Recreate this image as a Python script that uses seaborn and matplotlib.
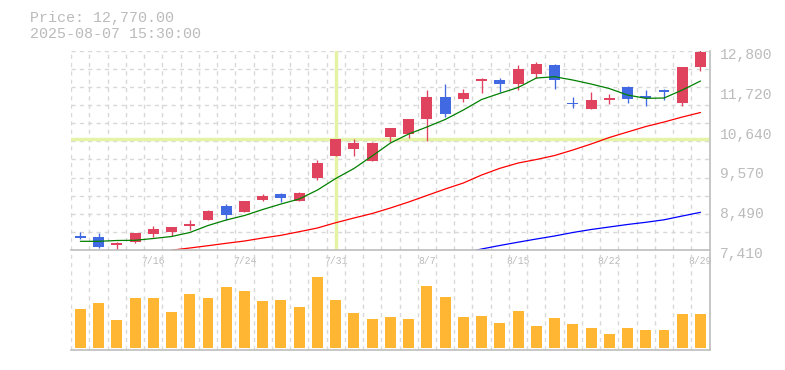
import numpy as np
import pandas as pd
import matplotlib
matplotlib.use("Agg")
import matplotlib.pyplot as plt
import seaborn as sns
from matplotlib.transforms import ScaledTranslation

# ---------------- data ----------------
dates = ['7/10', '7/11', '7/14', '7/15', '7/16', '7/17', '7/18', '7/22', '7/23', '7/24',
         '7/25', '7/28', '7/29', '7/30', '7/31', '8/1', '8/4', '8/5', '8/6', '8/7',
         '8/8', '8/12', '8/13', '8/14', '8/15', '8/18', '8/19', '8/20', '8/21', '8/22',
         '8/25', '8/26', '8/27', '8/28', '8/29']
opens = [7790, 7755, 7540, 7635, 7850, 7905, 8065, 8220, 8600, 8440,
         8760, 8925, 8735, 9355, 9950, 10140, 9825, 10465, 10545, 10950,
         11545, 11495, 11990, 12005, 11900, 12170, 12410, 11385, 11225, 11480,
         11820, 11575, 11735, 11395, 12365]
highs = [7900, 7880, 7635, 7880, 8060, 8030, 8220, 8490, 8655, 8745,
         8925, 8950, 8980, 9845, 10415, 10410, 10330, 10710, 10955, 11735,
         11900, 11770, 12070, 12060, 12410, 12495, 12440, 11555, 11680, 11630,
         11845, 11735, 11765, 12360, 12810]
lows = [7700, 7470, 7410, 7590, 7770, 7795, 7960, 8215, 8220, 8430,
        8735, 8710, 8730, 9305, 9945, 9950, 9820, 10330, 10440, 10355,
        11005, 11420, 11655, 11680, 11745, 12060, 11770, 11240, 11220, 11360,
        11385, 11310, 11480, 11310, 12260]
closes = [7735, 7500, 7590, 7880, 7980, 8030, 8120, 8465, 8365, 8735,
          8870, 8815, 8950, 9760, 10410, 10305, 10305, 10710, 10950, 11545,
          11095, 11655, 12040, 11900, 12305, 12440, 12015, 11360, 11465, 11505,
          11495, 11510, 11680, 12360, 12770]
volumes = [390, 450, 280, 500, 500, 360, 540, 500, 610, 570,
           470, 480, 410, 710, 480, 350, 290, 310, 290, 620,
           510, 310, 320, 250, 370, 220, 300, 240, 200, 140,
           200, 180, 180, 340, 340]
ma_short = [7645, 7645, 7667, 7672, 7721, 7775, 7883, 8072, 8221, 8343,
            8505, 8654, 8789, 9032, 9343, 9614, 9952, 10303, 10547, 10736,
            10939, 11196, 11480, 11647, 11804, 12061, 12096, 12007, 11899, 11777,
            11601, 11512, 11520, 11736, 11980]
ma_mid = [np.nan] * 5 + [7405, 7464, 7526, 7591, 7653,
                         7734, 7807, 7905, 8005, 8148, 8275, 8397, 8546, 8708, 8884,
                         9059, 9222, 9438, 9619, 9762, 9857, 9965, 10114, 10276, 10452,
                         10601, 10749, 10871, 11006, 11128]
ma_long = [np.nan] * 21 + [7329, 7437, 7532, 7621, 7707, 7789, 7883, 7964, 8032,
                           8100, 8159, 8227, 8329, 8429]
price_ticks = [7410, 8490, 9570, 10640, 11720, 12800]
price_tick_labels = ['7,410', '8,490', '9,570', '10,640', '11,720', '12,800']
header_price = 'Price: 12,770.00'
header_time = '2025-08-07 15:30:00'
cross_index = 14

# ---------------- style ----------------
sns.set_style('white')
plt.rcParams['font.family'] = ['Liberation Mono', 'DejaVu Sans Mono']

UP = '#E0435E'
DOWN = '#4169E1'
GRID = '#D8D8D8'
SPINE = '#BDBDBD'
TXT = '#BBBBBB'
VOL = '#FFB733'
CROSS = '#E4F3A6'

n = len(dates)
idx = np.arange(n)
df = pd.DataFrame({'i': idx, 'date': dates, 'open': opens, 'high': highs,
                   'low': lows, 'close': closes, 'volume': volumes,
                   'ma_short': ma_short, 'ma_mid': ma_mid, 'ma_long': ma_long})
df['up'] = df['close'] >= df['open']

fig = plt.figure(figsize=(7.85, 3.70), dpi=100)
W, H = 785, 370
xl, xr = 71.2, 709.6
ax = fig.add_axes([xl / W, (H - 250) / H, (xr - xl) / W, 199.3 / H])
axv = fig.add_axes([xl / W, (H - 350) / H, (xr - xl) / W, 98 / H])

ymin, ymax = 7410, 12800
for a in (ax, axv):
    a.set_xlim(-0.5, n - 0.5)
    a.set_facecolor('none')
    for s in ('left', 'top'):
        a.spines[s].set_visible(False)
    for s in ('right', 'bottom'):
        a.spines[s].set_color(SPINE)
        a.spines[s].set_linewidth(1.2)
        a.spines[s].set_zorder(6)
    for gx in np.arange(-0.5, n, 1.0):
        a.axvline(gx, color=GRID, lw=1.0, ls=(0, (3, 3)), zorder=0)

ax.set_ylim(ymin, ymax)
for gy in np.linspace(ymin, ymax, 12)[1:]:
    ax.axhline(gy, color=GRID, lw=1.0, ls=(0, (3, 3)), zorder=0)

# crosshair
ax.axvline(cross_index, color=CROSS, lw=2.5, zorder=1)
ax.axhline(df['close'][cross_index], color=CROSS, lw=2.5, zorder=1)

# candles
colors = np.where(df['up'], UP, DOWN)
body_lo = np.minimum(df['open'], df['close'])
body_h = np.maximum(np.abs(df['close'] - df['open']), 30)
ax.vlines(df['i'], df['low'], df['high'], colors=colors, lw=0.95, zorder=3)
ax.bar(df['i'], body_h, bottom=body_lo, width=0.6, color=colors, zorder=4, linewidth=0)

# moving averages
sns.lineplot(data=df, x='i', y='ma_short', color='#008000', lw=0.9, ax=ax, zorder=5)
sns.lineplot(data=df.dropna(subset=['ma_mid']), x='i', y='ma_mid', color='#FF0000', lw=0.9, ax=ax, zorder=5)
sns.lineplot(data=df.dropna(subset=['ma_long']), x='i', y='ma_long', color='#0000FF', lw=0.9, ax=ax, zorder=5)
ax.set_xlim(-0.5, n - 0.5)
ax.set_ylim(ymin, ymax)
ax.set_xlabel('')
ax.set_ylabel('')

ax.yaxis.tick_right()
ax.set_yticks(price_ticks)
ax.set_yticklabels(price_tick_labels)
ax.tick_params(axis='y', length=0, pad=7.5, labelsize=10.5, labelcolor=TXT)
for lbl in ax.get_yticklabels():
    lbl.set_transform(lbl.get_transform() + ScaledTranslation(0, -0.027, fig.dpi_scale_trans))

lab_pos = idx[4::5]
ax.set_xticks(lab_pos)
ax.set_xticklabels([dates[i] for i in lab_pos])
ax.tick_params(axis='x', length=0, pad=4.5, labelsize=7, labelcolor=TXT)
for lbl in ax.get_xticklabels():
    lbl.set_zorder(10)

# volume
sns.barplot(data=df, x='i', y='volume', color=VOL, saturation=1, width=0.6,
            ax=axv, zorder=3, linewidth=0, native_scale=True)
axv.set_xlim(-0.5, n - 0.5)
axv.set_ylim(-20, 960)
axv.set_xticks([])
axv.set_yticks([])
axv.set_xlabel('')
axv.set_ylabel('')

fig.text(30 / W, 1 - 18 / H, header_price, color=TXT, fontsize=10.8, va='center', ha='left')
fig.text(30 / W, 1 - 33.5 / H, header_time, color=TXT, fontsize=10.8, va='center', ha='left')

fig.savefig('out.png', dpi=100, facecolor='white')
